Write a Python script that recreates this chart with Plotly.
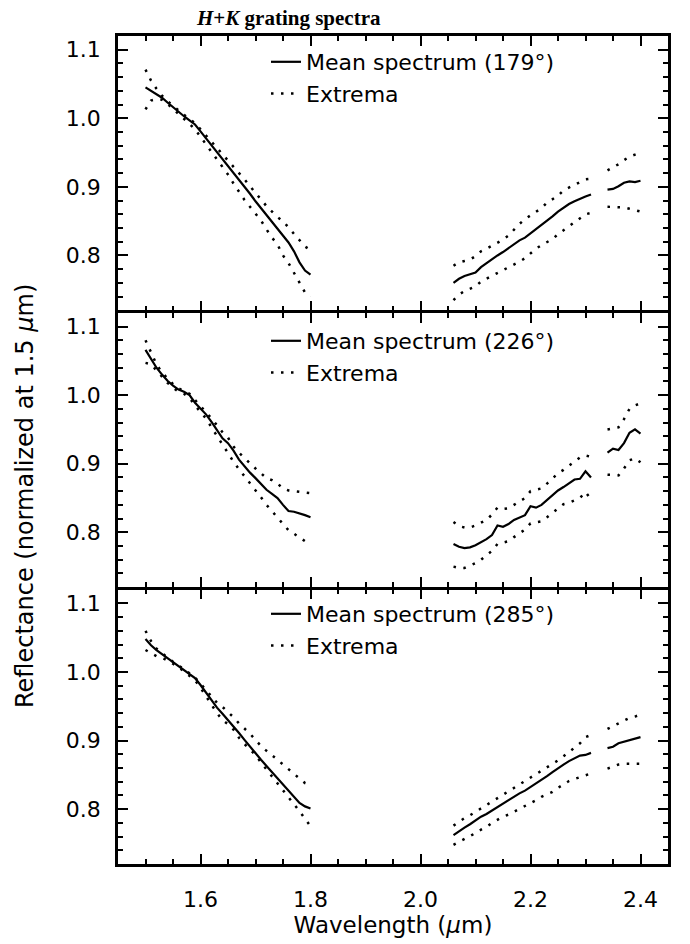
import plotly.graph_objects as go
from plotly.subplots import make_subplots

# ---------------- data ----------------
wl_H = [1.50, 1.51, 1.52, 1.53, 1.54, 1.55, 1.56, 1.57, 1.58, 1.59, 1.60,
        1.61, 1.62, 1.63, 1.64, 1.65, 1.66, 1.67, 1.68, 1.69, 1.70,
        1.71, 1.72, 1.73, 1.74, 1.75, 1.76, 1.77, 1.78, 1.79, 1.80]
wl_K1 = [2.06, 2.07, 2.08, 2.09, 2.10, 2.11, 2.12, 2.13, 2.14, 2.15, 2.16, 2.17, 2.18,
         2.19, 2.20, 2.21, 2.22, 2.23, 2.24, 2.25, 2.26, 2.27, 2.28, 2.29, 2.30, 2.31]
wl_K2 = [2.34, 2.35, 2.36, 2.37, 2.38, 2.39, 2.40]

angles = ["179", "226", "285"]

# 179 deg
mean_179 = ([1.045, 1.040, 1.035, 1.030, 1.023, 1.016, 1.009, 1.003, 0.997, 0.991, 0.981,
             0.971, 0.961, 0.951, 0.941, 0.930, 0.920, 0.911, 0.901, 0.890, 0.879,
             0.869, 0.858, 0.848, 0.838, 0.829, 0.819, 0.806, 0.790, 0.778, 0.772]
            + [None] +
            [0.760, 0.766, 0.770, 0.772, 0.775, 0.783, 0.789, 0.795, 0.800, 0.805, 0.811, 0.817, 0.822,
             0.826, 0.832, 0.838, 0.845, 0.851, 0.857, 0.864, 0.870, 0.875, 0.879, 0.883, 0.886, 0.889]
            + [None] +
            [0.896, 0.897, 0.901, 0.906, 0.908, 0.907, 0.909])
upper_179 = ([1.071, 1.055, 1.043, 1.033, 1.025, 1.018, 1.011, 1.005, 0.999, 0.993, 0.984,
              0.975, 0.966, 0.957, 0.947, 0.938, 0.929, 0.920, 0.911, 0.901, 0.891,
              0.882, 0.872, 0.864, 0.856, 0.850, 0.841, 0.832, 0.822, 0.813, 0.808]
             + [None] +
             [0.785, 0.790, 0.792, 0.794, 0.799, 0.806, 0.810, 0.814, 0.818, 0.823, 0.829, 0.838, 0.846,
              0.853, 0.858, 0.864, 0.869, 0.877, 0.882, 0.887, 0.895, 0.899, 0.903, 0.907, 0.911, 0.912]
             + [None] +
             [0.924, 0.928, 0.933, 0.939, 0.944, 0.947, 0.950])
lower_179 = ([1.013, 1.026, 1.028, 1.027, 1.021, 1.014, 1.006, 0.999, 0.992, 0.984, 0.973,
              0.962, 0.951, 0.940, 0.929, 0.918, 0.905, 0.892, 0.881, 0.871, 0.861,
              0.851, 0.838, 0.826, 0.816, 0.800, 0.789, 0.775, 0.760, 0.746, 0.740]
             + [None] +
             [0.735, 0.743, 0.748, 0.752, 0.755, 0.762, 0.766, 0.771, 0.774, 0.778, 0.782, 0.786, 0.791,
              0.796, 0.803, 0.810, 0.815, 0.820, 0.824, 0.831, 0.837, 0.843, 0.849, 0.854, 0.860, 0.862]
             + [None] +
             [0.871, 0.871, 0.871, 0.870, 0.868, 0.866, 0.864])

# 226 deg
mean_226 = ([1.066, 1.053, 1.040, 1.030, 1.021, 1.014, 1.008, 1.005, 1.000, 0.989, 0.980,
             0.972, 0.961, 0.949, 0.937, 0.930, 0.919, 0.906, 0.896, 0.887, 0.879,
             0.870, 0.862, 0.856, 0.850, 0.840, 0.831, 0.830, 0.828, 0.825, 0.822]
            + [None] +
            [0.783, 0.779, 0.777, 0.778, 0.781, 0.785, 0.790, 0.796, 0.810, 0.808, 0.812, 0.818, 0.821,
             0.825, 0.838, 0.836, 0.840, 0.847, 0.854, 0.861, 0.866, 0.872, 0.877, 0.878, 0.889, 0.880]
            + [None] +
            [0.916, 0.922, 0.920, 0.930, 0.945, 0.950, 0.944])
upper_226 = ([1.080, 1.062, 1.045, 1.033, 1.024, 1.016, 1.010, 1.006, 1.002, 0.993, 0.984,
              0.976, 0.966, 0.956, 0.946, 0.938, 0.925, 0.916, 0.908, 0.901, 0.893,
              0.886, 0.879, 0.876, 0.871, 0.864, 0.861, 0.860, 0.859, 0.858, 0.857]
             + [None] +
             [0.815, 0.809, 0.807, 0.807, 0.810, 0.814, 0.818, 0.826, 0.836, 0.834, 0.835, 0.840, 0.845,
              0.850, 0.860, 0.862, 0.864, 0.871, 0.879, 0.886, 0.891, 0.897, 0.904, 0.909, 0.912, 0.910]
             + [None] +
             [0.950, 0.952, 0.953, 0.965, 0.980, 0.985, 0.988])
lower_226 = ([1.047, 1.045, 1.036, 1.027, 1.018, 1.011, 1.005, 1.002, 0.996, 0.985, 0.975,
              0.966, 0.953, 0.940, 0.928, 0.916, 0.903, 0.892, 0.882, 0.871, 0.861,
              0.851, 0.840, 0.831, 0.821, 0.812, 0.803, 0.798, 0.792, 0.787, 0.784]
             + [None] +
             [0.750, 0.748, 0.748, 0.751, 0.755, 0.760, 0.766, 0.773, 0.783, 0.785, 0.787, 0.793, 0.799,
              0.804, 0.813, 0.815, 0.816, 0.822, 0.828, 0.835, 0.841, 0.843, 0.846, 0.850, 0.859, 0.848]
             + [None] +
             [0.884, 0.884, 0.883, 0.893, 0.905, 0.908, 0.902])

# 285 deg
mean_285 = ([1.048, 1.039, 1.032, 1.026, 1.020, 1.014, 1.009, 1.003, 0.997, 0.991, 0.981,
             0.970, 0.958, 0.948, 0.939, 0.930, 0.921, 0.911, 0.901, 0.891, 0.881,
             0.872, 0.863, 0.854, 0.845, 0.836, 0.828, 0.819, 0.809, 0.804, 0.801]
            + [None] +
            [0.762, 0.768, 0.773, 0.778, 0.784, 0.789, 0.793, 0.798, 0.803, 0.809, 0.813, 0.818, 0.823,
             0.827, 0.832, 0.837, 0.843, 0.848, 0.854, 0.860, 0.865, 0.870, 0.874, 0.878, 0.879, 0.882]
            + [None] +
            [0.889, 0.891, 0.896, 0.898, 0.900, 0.902, 0.905])
upper_285 = ([1.060, 1.045, 1.034, 1.027, 1.021, 1.015, 1.010, 1.004, 0.998, 0.992, 0.983,
              0.974, 0.964, 0.955, 0.949, 0.942, 0.934, 0.925, 0.918, 0.910, 0.901,
              0.892, 0.885, 0.879, 0.872, 0.865, 0.858, 0.852, 0.845, 0.838, 0.835]
             + [None] +
             [0.776, 0.782, 0.787, 0.791, 0.796, 0.801, 0.806, 0.811, 0.816, 0.821, 0.826, 0.831, 0.836,
              0.840, 0.845, 0.850, 0.855, 0.860, 0.866, 0.871, 0.877, 0.883, 0.890, 0.896, 0.905, 0.908]
             + [None] +
             [0.917, 0.921, 0.926, 0.930, 0.933, 0.935, 0.938])
lower_285 = ([1.032, 1.028, 1.023, 1.021, 1.017, 1.012, 1.007, 1.001, 0.995, 0.988, 0.977,
              0.965, 0.953, 0.940, 0.930, 0.924, 0.916, 0.904, 0.895, 0.887, 0.879,
              0.868, 0.858, 0.848, 0.838, 0.828, 0.817, 0.807, 0.797, 0.786, 0.775]
             + [None] +
             [0.748, 0.752, 0.756, 0.760, 0.765, 0.770, 0.774, 0.780, 0.785, 0.789, 0.792, 0.796, 0.800,
              0.804, 0.809, 0.813, 0.818, 0.821, 0.825, 0.831, 0.836, 0.841, 0.844, 0.847, 0.850, 0.852]
             + [None] +
             [0.859, 0.862, 0.865, 0.866, 0.866, 0.866, 0.866])

wavelength = wl_H + [None] + wl_K1 + [None] + wl_K2

x_ticks = [1.6, 1.8, 2.0, 2.2, 2.4]
y_ticks = [0.8, 0.9, 1.0, 1.1]

title_text = "<b><i>H</i>+<i>K</i> grating spectra</b>"
x_title = "Wavelength (<i>μ</i>m)"
y_title = "Reflectance (normalized at 1.5 <i>μ</i>m)"

# ---------------- figure ----------------
FONT = "DejaVu Sans"
H, W = 944, 690
mt, mb, ml, mr = 36, 80, 118, 22
ph = H - mt - mb
pw = W - ml - mr
LW = 2.5

fig = make_subplots(rows=3, cols=1, shared_xaxes=True, vertical_spacing=LW / ph)

series = [(angles[0], mean_179, upper_179, lower_179),
          (angles[1], mean_226, upper_226, lower_226),
          (angles[2], mean_285, upper_285, lower_285)]

for i, (ang, mean, upper, lower) in enumerate(series, start=1):
    leg = "legend" if i == 1 else f"legend{i}"
    fig.add_trace(go.Scatter(x=wavelength, y=mean, mode="lines",
                             line=dict(color="black", width=2.2),
                             name=f"Mean spectrum ({ang}°)", legend=leg,
                             connectgaps=False, hoverinfo="skip"), row=i, col=1)
    fig.add_trace(go.Scatter(x=wavelength, y=upper, mode="lines",
                             line=dict(color="black", width=2.5, dash="2.5px,7.5px"),
                             name="Extrema", legend=leg,
                             connectgaps=False, hoverinfo="skip"), row=i, col=1)
    fig.add_trace(go.Scatter(x=wavelength, y=lower, mode="lines",
                             line=dict(color="black", width=2.5, dash="2.5px,7.5px"),
                             name="Extrema", legend=leg, showlegend=False,
                             connectgaps=False, hoverinfo="skip"), row=i, col=1)

axis_common = dict(showline=True, linecolor="black", linewidth=LW, mirror="ticks",
                   ticks="inside", tickcolor="black", tickwidth=2, showgrid=False,
                   zeroline=False, tickfont=dict(family=FONT, size=22, color="black"))

fig.update_xaxes(range=[1.45, 2.45], tickvals=x_ticks, tickformat=".1f", ticklen=10,
                 minor=dict(dtick=0.05, tick0=1.45, ticklen=5, tickcolor="black",
                            tickwidth=2, ticks="inside", showgrid=False),
                 **axis_common)
fig.update_xaxes(ticklabelstandoff=14, row=3, col=1,
                 title=dict(text=x_title, standoff=6,
                            font=dict(family=FONT, size=23, color="black")))
fig.update_yaxes(range=[0.72, 1.12], tickvals=y_ticks, tickformat=".1f", ticklen=10,
                 ticklabelstandoff=10,
                 minor=dict(dtick=0.02, tick0=0.72, ticklen=5, tickcolor="black",
                            tickwidth=2, ticks="inside", showgrid=False),
                 **axis_common)


def py(px):
    return (H - mb - px) / ph


def pxx(px):
    return (px - ml) / pw


leg_common = dict(x=pxx(266), xanchor="left", yanchor="top", bgcolor="rgba(0,0,0,0)",
                  font=dict(family=FONT, size=22, color="black"), tracegroupgap=0,
                  borderwidth=0, itemwidth=30)
fig.update_layout(
    width=W, height=H, margin=dict(l=ml, r=mr, t=mt, b=mb),
    paper_bgcolor="white", plot_bgcolor="white", template="none",
    font=dict(family=FONT, size=22, color="black"),
    legend=dict(y=py(41), **leg_common),
    legend2=dict(y=py(320), **leg_common),
    legend3=dict(y=py(593), **leg_common),
    annotations=[
        dict(text=title_text, xref="paper", yref="paper", x=pxx(194), y=py(18),
             xanchor="left", yanchor="middle", showarrow=False,
             font=dict(family="Liberation Serif", size=21, color="black")),
        dict(text=y_title, xref="paper", yref="paper", x=pxx(25), y=py(496),
             xanchor="center", yanchor="middle", textangle=-90, showarrow=False,
             font=dict(family=FONT, size=24, color="black")),
    ],
)

fig.write_html("out.html")
